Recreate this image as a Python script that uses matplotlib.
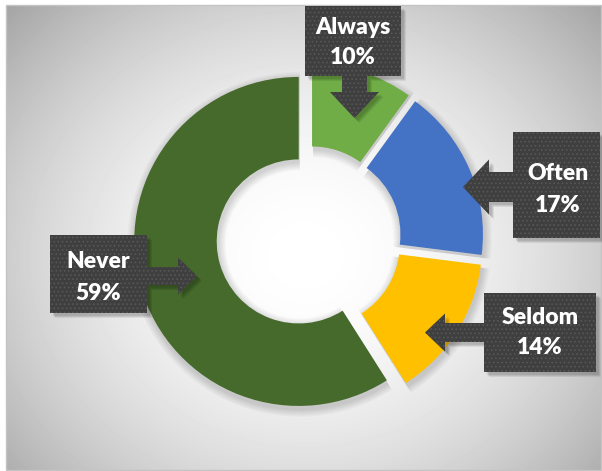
import numpy as np
import matplotlib.pyplot as plt
from matplotlib.patches import Polygon, Rectangle

labels = ["Always", "Often", "Seldom", "Never"]
shares = [10, 17, 14, 59]
colors = ["#70AD47", "#4472C4", "#FFC000", "#456A2C"]

W, H = 602, 471
fig = plt.figure(figsize=(W / 100, H / 100), dpi=100)
ax = fig.add_axes([0, 0, 1, 1])


def flip(pts):
    return [(x, H - y) for x, y in pts]


# chart area with a soft radial fill
fx0, fy0, fx1, fy1 = 6, 5, 601, 470
yy, xx = np.mgrid[fy0:fy1, fx0:fx1]
r = np.sqrt(((xx - 305) / 340.0) ** 2 + ((yy - 255) / 300.0) ** 2)
shade = 1 - 0.25 * np.clip(r, 0, 1.4) ** 1.9
ax.imshow(shade, cmap="gray", vmin=0, vmax=1, extent=(fx0, fx1, H - fy1, H - fy0),
          interpolation="bilinear", zorder=0)
ax.add_patch(Rectangle((fx0, H - fy1), fx1 - fx0, fy1 - fy0, fill=False,
                       edgecolor="#c4c4c4", lw=1, zorder=1))

# doughnut
cx, cy = 308.8, H - 238.5
R, ring, gap = 164.5, 82.5, 10.5
for k in range(1, 9):
    ax.pie(shares, colors=["k"] * 4, startangle=90, counterclock=False,
           radius=R + k, center=(cx + 1, cy - 3), explode=[gap] * 4,
           wedgeprops=dict(width=ring + 2 * k, linewidth=0, alpha=0.018, zorder=2))
ax.pie(shares, colors=colors, startangle=90, counterclock=False, radius=R,
       center=(cx, cy), explode=[gap] * 4,
       wedgeprops=dict(width=ring, linewidth=0, zorder=3))


def callout(box, direction, c, s, h, base, tip):
    x0, y0, x1, y1 = box
    if direction == "down":
        pts = [(x0, y0), (x1, y0), (x1, y1), (c + s, y1), (c + s, base), (c + h, base),
               (c, tip), (c - h, base), (c - s, base), (c - s, y1), (x0, y1)]
    elif direction == "left":
        pts = [(x0, y0), (x1, y0), (x1, y1), (x0, y1), (x0, c + s), (base, c + s),
               (base, c + h), (tip, c), (base, c - h), (base, c - s), (x0, c - s)]
    else:
        pts = [(x0, y0), (x1, y0), (x1, c - s), (base, c - s), (base, c - h), (tip, c),
               (base, c + h), (base, c + s), (x1, c + s), (x1, y1), (x0, y1)]
    for k in range(1, 6):
        sh = [(x + 2 + k * 0.6, y + 2 + k * 0.6) for x, y in pts]
        ax.add_patch(Polygon(flip(sh), closed=True, facecolor="k", alpha=0.05,
                             lw=0, zorder=4))
    ax.add_patch(Polygon(flip(pts), closed=True, facecolor="#3f3f3f",
                         edgecolor="#575757", hatch="....", lw=0, zorder=5))


plt.rcParams["hatch.linewidth"] = 0.7

callout((305, 6, 401, 76), "down", 354.5, 12.5, 24.5, 92, 118)
callout((513, 132, 600, 238), "left", 187, 15, 27.5, 489, 463)
callout((484, 293, 596, 372), "left", 332.5, 9.5, 19, 445, 425)
callout((50, 235, 147, 313), "right", 276, 9, 18.5, 178, 197)

text_pos = {
    "Always": (353, 27, 58),
    "Often": (558, 173, 205),
    "Seldom": (540, 318, 348),
    "Never": (98, 262, 293),
}
for name, val in zip(labels, shares):
    tx, ty1, ty2 = text_pos[name]
    for txt, ty in ((name, ty1), (f"{val}%", ty2)):
        ax.text(tx, H - ty, txt, color="white", fontsize=16.5, fontweight="heavy",
                family="Lato", ha="center", va="center", zorder=6)

ax.set_xlim(0, W)
ax.set_ylim(0, H)
ax.set_aspect("auto")
ax.axis("off")
fig.savefig("out.png", dpi=100, facecolor="white")
